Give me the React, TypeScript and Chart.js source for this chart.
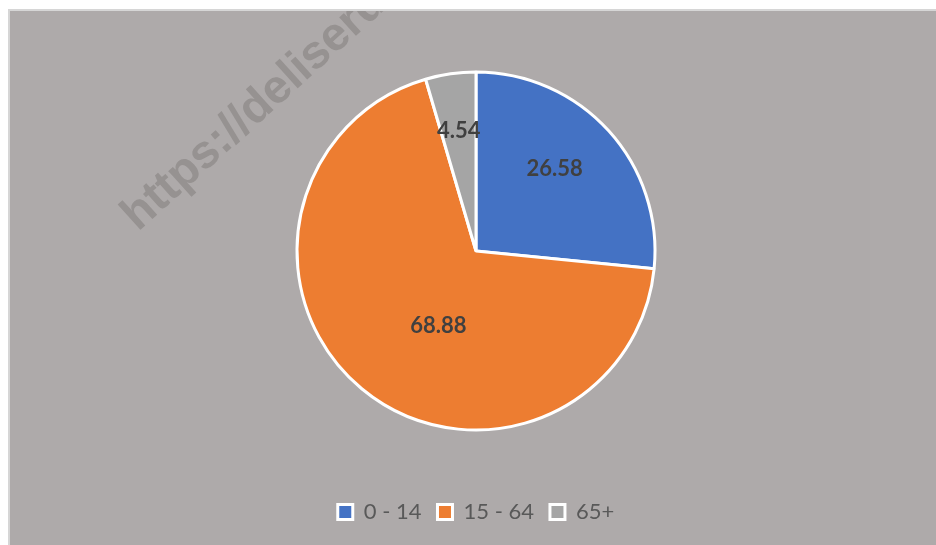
import { useEffect, useRef } from "react";
import { Chart, registerables } from "chart.js";

Chart.register(...registerables);

const categories = ["0 - 14", "15 - 64", "65+"];
const values = [26.58, 68.88, 4.54];
const colors = ["#4472C4", "#ED7D31", "#A5A5A5"];
const watermarkText = "https://deliserdangkab.bps.go.id";

// label placement: fraction of radius and angle shift (degrees) from slice middle
const labelRadiusFrac = [0.636, 0.469, 0.68];
const labelAngleShift = [-4.2, -13.1, 0];

const FONT = "Lato, 'Open Sans', 'Liberation Sans', sans-serif";

const watermarkPlugin = {
  id: "watermark",
  beforeDatasetsDraw(chart: any) {
    const ctx = chart.ctx;
    ctx.save();
    ctx.translate(128, 221);
    ctx.rotate((-42 * Math.PI) / 180);
    ctx.font = `bold 47px 'Liberation Sans', Arial, sans-serif`;
    ctx.fillStyle = "rgba(125,121,120,0.5)";
    ctx.textAlign = "left";
    ctx.textBaseline = "alphabetic";
    ctx.fillText(watermarkText, 0, 0);
    ctx.restore();
  },
};

const labelPlugin = {
  id: "sliceLabels",
  afterDatasetsDraw(chart: any) {
    const meta = chart.getDatasetMeta(0);
    const ctx = chart.ctx;
    ctx.save();
    ctx.font = `bold 22px ${FONT}`;
    ctx.fillStyle = "#404040";
    ctx.textAlign = "center";
    ctx.textBaseline = "middle";
    meta.data.forEach((arc: any, i: number) => {
      const p = arc.getProps(["x", "y", "startAngle", "endAngle", "outerRadius"], true);
      const mid = (p.startAngle + p.endAngle) / 2 + (labelAngleShift[i] * Math.PI) / 180;
      const r = p.outerRadius * labelRadiusFrac[i];
      ctx.fillText(values[i].toFixed(2), p.x + r * Math.cos(mid), p.y + r * Math.sin(mid));
    });
    ctx.restore();
  },
};

export default function App() {
  const ref = useRef<HTMLCanvasElement>(null);
  useEffect(() => {
    if (!ref.current) return;
    const chart = new Chart(ref.current, {
      type: "pie",
      data: {
        labels: categories,
        datasets: [
          {
            data: values,
            backgroundColor: colors,
            borderColor: "#ffffff",
            borderWidth: 3,
            radius: 179,
          },
        ],
      },
      options: {
        animation: false,
        responsive: false,
        layout: { padding: { left: 6, right: 0, top: 6, bottom: 12 } },
        plugins: {
          tooltip: { enabled: false },
          legend: {
            position: "bottom",
            labels: {
              boxWidth: 15,
              boxHeight: 15,
              padding: 16,
              color: "#595959",
              font: { family: FONT, size: 22 },
              generateLabels: () =>
                categories.map((lab, i) => ({
                  text: lab,
                  fillStyle: colors[i],
                  strokeStyle: "#ffffff",
                  lineWidth: 3,
                  hidden: false,
                  index: i,
                  datasetIndex: 0,
                  fontColor: "#595959",
                })),
            },
          },
        },
      },
      plugins: [watermarkPlugin, labelPlugin],
    });
    return () => chart.destroy();
  }, []);

  return (
    <div style={{ position: "absolute", left: 0, top: 0, width: 936, height: 545, background: "#ffffff", overflow: "hidden" }}>
      <div
        style={{
          position: "absolute",
          left: 8,
          top: 9,
          width: 928,
          height: 536,
          boxSizing: "border-box",
          borderTop: "2px solid #d6d6d6",
          borderLeft: "2px solid #d6d6d6",
          background: "#AEAAAA",
        }}
      >
        <canvas ref={ref} width={926} height={534} style={{ display: "block" }} />
      </div>
    </div>
  );
}
